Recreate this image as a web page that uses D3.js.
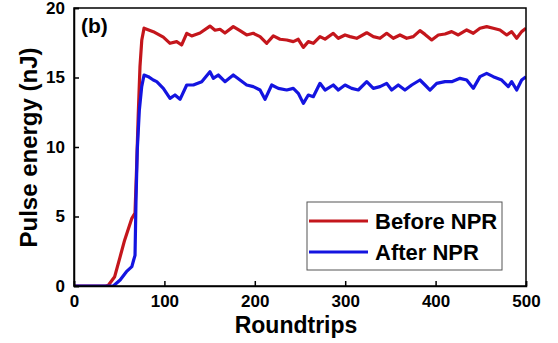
<!DOCTYPE html>
<html><head><meta charset="utf-8">
<script src="https://cdn.jsdelivr.net/npm/d3@7"></script>
<style>body{margin:0;background:#fff}svg{display:block}text{font-family:"Liberation Sans",Arial,sans-serif;font-weight:bold}</style>
</head><body><svg id="c" width="558" height="343"></svg>
<script>
const xTicks = [0,100,200,300,400,500];
const yTicks = [0,5,10,15,20];
const seriesNames = ["Before NPR","After NPR"];
const seriesColors = ["#c4161c","#1414e0"];
const beforeX = [0,35,38,45,51,56,64,67.5,69.3,71,73,75,77.5,87.7,98.8,106.2,113.6,119.1,124.7,130.2,139.4,150.4,156,161.5,167,176.2,183.6,191,198.3,205.8,213.2,220.5,227.9,235.3,242.6,248.1,253.7,259.2,264.7,272.1,277.7,286.8,292.4,299.8,305.3,312.7,323.8,331.1,338.5,345.9,353.2,360.6,368,375.3,382.7,388.3,395.7,403,410.4,417.8,425.1,434.4,441.7,449.1,456.5,463.8,471.2,478.7,484.1,489.7,495.2,500];
const beforeY = [0,0,0.05,0.67,2.1,3.3,4.87,5.25,8.6,12.2,15.8,17.7,18.55,18.3,17.9,17.46,17.58,17.34,18.18,17.99,18.2,18.7,18.4,18.47,18.2,18.66,18.37,18.06,18.18,17.94,17.46,17.99,17.75,17.7,17.58,17.75,17.17,17.58,17.46,17.94,17.76,18.18,17.82,18.06,17.94,17.82,18.22,17.94,17.82,18.18,17.82,18.06,17.82,17.94,18.37,18.1,17.7,18.06,18.13,18.3,18.06,18.42,18.18,18.54,18.66,18.54,18.42,18.06,18.3,17.82,18.3,18.54];
const afterX = [0,43.5,51,58,64,66,67.5,68.6,70,72.3,74.9,77.5,82.2,87.7,91.5,98.8,106.2,111.7,117.3,124.7,132,141.3,150.4,154.1,159.6,167,176.2,183.6,191,198.3,205.8,211.3,218.7,226,235.3,242.6,248.1,253.7,259.2,264.7,272.1,277.7,286.8,292.4,299.8,307.2,314.5,323.8,331.1,338.5,345.9,351.4,358.7,366.1,373.6,382.7,388.3,393.8,401.2,410.4,417.8,427,434.4,441.7,449.1,456.5,463.8,473.1,480.4,484.1,489.7,495.2,500];
const afterY = [0,0,0.43,1.03,1.39,1.87,2.2,6.2,9.8,12.66,14.34,15.18,15.06,14.82,14.7,14.22,13.5,13.74,13.43,14.46,14.46,14.7,15.42,14.94,15.18,14.7,15.18,14.82,14.46,14.34,14.1,13.43,14.46,14.22,14.1,14.22,13.86,13.14,13.74,13.62,14.58,14.1,14.46,14.1,14.46,14.22,14.1,14.7,14.22,14.34,14.58,14.1,14.46,14.1,14.46,14.82,14.46,14.1,14.58,14.7,14.7,14.94,14.82,14.22,15.06,15.3,15.06,14.82,14.34,14.7,14.1,14.82,15.06];

const svg = d3.select("#c");
const L=74,R=526,T=8,B=286;
const x = d3.scaleLinear().domain([0,500]).range([L,R]);
const y = d3.scaleLinear().domain([0,20]).range([B,T]);

svg.append("clipPath").attr("id","clip").append("rect").attr("x",L).attr("y",T).attr("width",R-L).attr("height",B-T);
const line = d3.line().x(d=>x(d[0])).y(d=>y(d[1]));
const series = [d3.zip(beforeX,beforeY), d3.zip(afterX,afterY)];
series.forEach((s,i)=>{
  svg.append("path").datum(s).attr("d",line).attr("fill","none")
    .attr("stroke",seriesColors[i]).attr("stroke-width",3.2).attr("stroke-linejoin","round")
    .attr("clip-path","url(#clip)");
});

svg.append("rect").attr("x",L).attr("y",T).attr("width",R-L).attr("height",B-T)
  .attr("fill","none").attr("stroke","#000").attr("stroke-width",1.5);

const xa = svg.append("g").attr("transform",`translate(0,${B})`)
  .call(d3.axisBottom(x).tickValues(xTicks).tickSize(-5).tickPadding(9).tickFormat(d3.format("d")));
const ya = svg.append("g").attr("transform",`translate(${L},0)`)
  .call(d3.axisLeft(y).tickValues(yTicks).tickSize(-5).tickPadding(9).tickFormat(d3.format("d")));
[xa,ya].forEach(a=>{
  a.select(".domain").attr("stroke","#000").attr("stroke-width",1.5);
  a.selectAll(".tick line").attr("stroke","#000").attr("stroke-width",1.5);
  a.selectAll(".tick text").attr("fill","#000").style("font-size","17px").style("font-weight","bold").style("font-family","Liberation Sans, Arial, sans-serif");
});

svg.append("text").attr("x",296).attr("y",333).attr("text-anchor","middle")
  .style("font-size","23px").attr("fill","#000").text("Roundtrips");
svg.append("text").attr("transform","translate(37,147.5) rotate(-90)").attr("text-anchor","middle")
  .style("font-size","24px").attr("fill","#000").text("Pulse energy (nJ)");
svg.append("text").attr("x",81).attr("y",33).style("font-size","21px").attr("fill","#000").text("(b)");

const lg = svg.append("g");
lg.append("rect").attr("x",307).attr("y",202).attr("width",195).attr("height",68)
  .attr("fill","#fff").attr("stroke","#555").attr("stroke-width",1);
seriesNames.forEach((n,i)=>{
  const yy = 221 + i*31;
  lg.append("line").attr("x1",309).attr("x2",368).attr("y1",yy).attr("y2",yy)
    .attr("stroke",seriesColors[i]).attr("stroke-width",3.2);
  lg.append("text").attr("x",375).attr("y",yy+8).style("font-size","22px").attr("fill","#000").text(n);
});
</script></body></html>
